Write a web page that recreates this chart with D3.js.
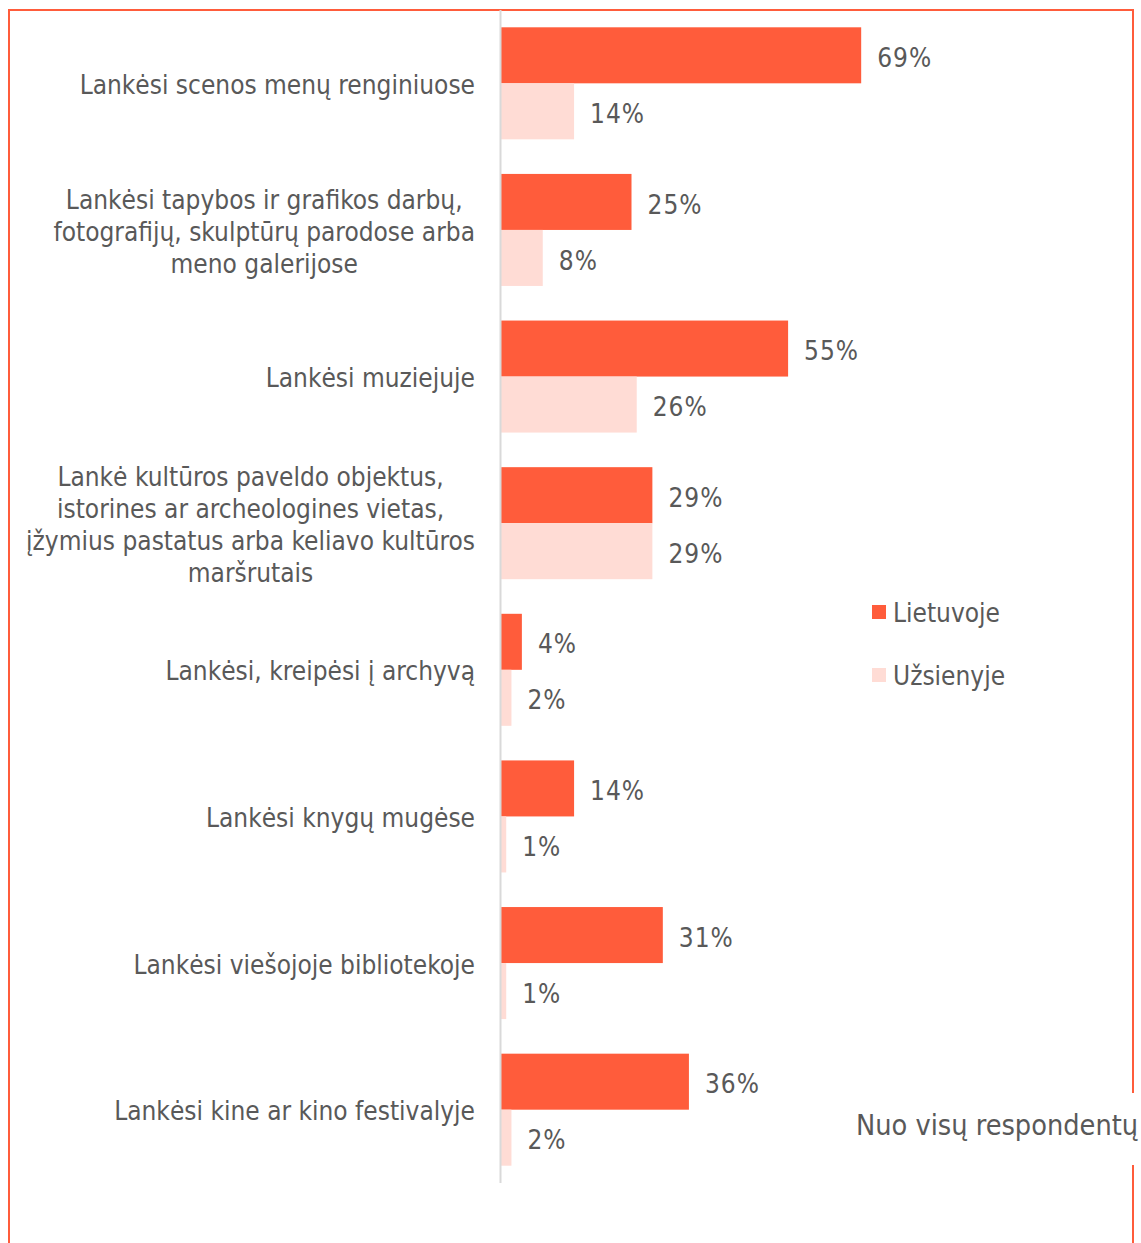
<!DOCTYPE html>
<html><head><meta charset="utf-8">
<script src="https://cdn.jsdelivr.net/npm/d3@7"></script>
<style>body{margin:0;background:#fff}svg{display:block}</style>
</head><body>
<script>
const categories = [
  "Lankėsi scenos menų renginiuose",
  "Lankėsi tapybos ir grafikos darbų,|fotografijų, skulptūrų parodose arba|meno galerijose",
  "Lankėsi muziejuje",
  "Lankė kultūros paveldo objektus,|istorines ar archeologines vietas,|įžymius pastatus arba keliavo kultūros|maršrutais",
  "Lankėsi, kreipėsi į archyvą",
  "Lankėsi knygų mugėse",
  "Lankėsi viešojoje bibliotekoje",
  "Lankėsi kine ar kino festivalyje"
];
const seriesNames = ["Lietuvoje", "Užsienyje"];
const lietuvoje = [69, 25, 55, 29, 4, 14, 31, 36];
const uzsienyje = [14, 8, 26, 29, 2, 1, 1, 2];
const footnote = "Nuo visų respondentų";

const W = 1141, H = 1243;
const colors = ["#FF5C3B", "#FFDCD5"];
const textColor = "#595959";
const font = "'DejaVu Sans Condensed', 'DejaVu Sans', sans-serif";

const svg = d3.select("body").append("svg").attr("width", W).attr("height", H);

// border
svg.append("rect").attr("x", 9).attr("y", 10).attr("width", 1124).attr("height", 1300)
  .attr("fill", "none").attr("stroke", "#FF5C3B").attr("stroke-width", 2);

const x = d3.scaleLinear().domain([0, 100]).range([501, 1023]);
const y = d3.scaleBand().domain(categories).range([10, 1183]).paddingInner(0.236).paddingOuter(0.118);
const ys = d3.scaleBand().domain(seriesNames).range([0, y.bandwidth()]);

const data = categories.map((c, i) => ({cat: c, vals: [lietuvoje[i], uzsienyje[i]]}));

const g = svg.selectAll("g.cat").data(data).join("g").attr("class", "cat")
  .attr("transform", d => `translate(0,${y(d.cat)})`);

g.selectAll("rect").data(d => d.vals.map((v, j) => ({v, s: seriesNames[j], j})))
  .join("rect")
  .attr("x", x(0)).attr("y", d => ys(d.s))
  .attr("width", d => x(d.v) - x(0)).attr("height", ys.bandwidth())
  .attr("fill", d => colors[d.j]);

g.selectAll("text.val").data(d => d.vals.map((v, j) => ({v, s: seriesNames[j]})))
  .join("text").attr("class", "val")
  .attr("x", d => x(d.v) + 16).attr("y", d => ys(d.s) + ys.bandwidth() / 2 + 2.5)
  .attr("dy", "0.35em")
  .attr("font-family", font).attr("font-size", 26).attr("letter-spacing", 1).attr("fill", textColor)
  .text(d => d.v + "%");

// axis line
svg.append("line").attr("x1", 500.5).attr("x2", 500.5).attr("y1", 10).attr("y2", 1183)
  .attr("stroke", "#D9D9D9").attr("stroke-width", 2);

// category labels
const labelRight = 475, lineH = 32;
g.each(function(d) {
  const lines = d.cat.split("|");
  const t = d3.select(this).append("text")
    .attr("font-family", font).attr("font-size", 26).attr("fill", textColor)
    .attr("text-anchor", "middle");
  const n = lines.length;
  const spans = lines.map((l, k) => t.append("tspan")
    .attr("y", y.bandwidth() / 2 + 1.5 + (k - (n - 1) / 2) * lineH).attr("dy", "0.35em").text(l));
  let maxW = 0;
  spans.forEach(s => { maxW = Math.max(maxW, s.node().getComputedTextLength()); });
  spans.forEach(s => s.attr("x", labelRight - maxW / 2));
});

// legend
const lg = svg.append("g");
seriesNames.forEach((s, i) => {
  const ly = 612 + i * 63;
  lg.append("rect").attr("x", 872).attr("y", ly - 7).attr("width", 14).attr("height", 14).attr("fill", colors[i]);
  lg.append("text").attr("x", 893).attr("y", ly + 1).attr("dy", "0.35em")
    .attr("font-family", font).attr("font-size", 26).attr("fill", textColor).text(s);
});

// footnote
svg.append("rect").attr("x", 848).attr("y", 1093).attr("width", 300).attr("height", 72).attr("fill", "#fff");
svg.append("text").attr("x", 856).attr("y", 1125).attr("dy", "0.35em")
  .attr("font-family", font).attr("font-size", 28.6).attr("fill", textColor).text(footnote);
</script>
</body></html>
